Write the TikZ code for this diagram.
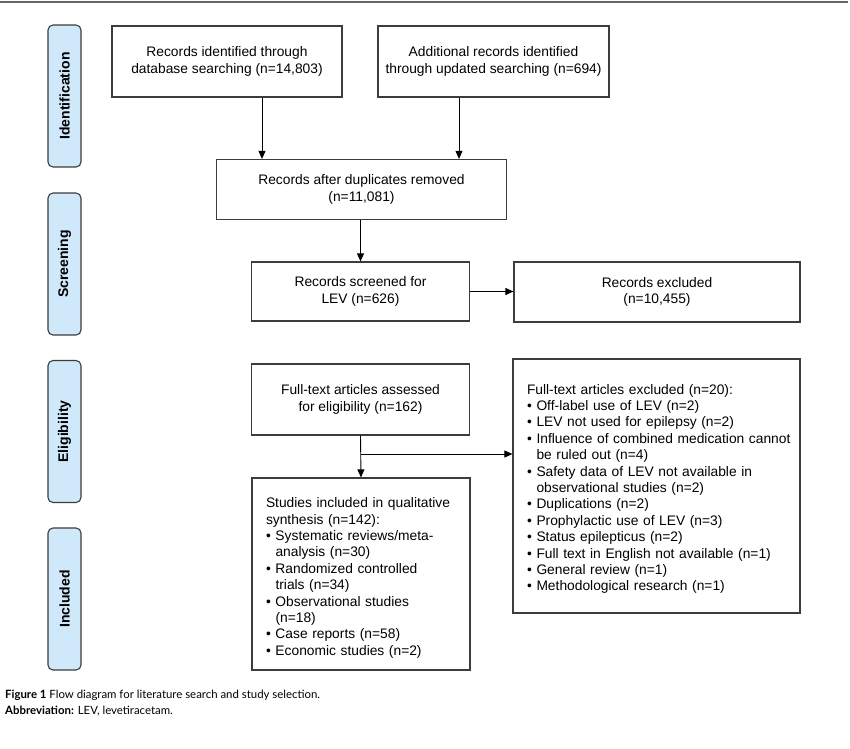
\documentclass[tikz,border=0pt]{standalone}
\usepackage{fontspec}
\setmainfont{Liberation Sans}
\newfontfamily\capfont{Lato}
\usetikzlibrary{arrows.meta,positioning}
\definecolor{sidefill}{RGB}{207,232,250}
\definecolor{boxline}{RGB}{60,60,60}
\newcommand\bl{\makebox[9.5pt][l]{•}}
\newcommand\ind{\hspace*{9.5pt}}
\tikzset{
  fbox/.style={draw=boxline, line width=1.2pt, rectangle, inner sep=0pt,
    font=\fontsize{13.8}{16.4}\selectfont, align=center},
  lbox/.style={fbox, align=left, anchor=center},
  side/.style={draw=boxline, fill=sidefill, line width=1.1pt, rounded corners=5pt,
    rotate=90, minimum width=142pt, minimum height=33pt, inner sep=0pt,
    font=\bfseries\fontsize{14}{16}\selectfont},
  arr/.style={-{Triangle[length=8pt,width=7pt]}, line width=0.9pt, black},
  capt/.style={anchor=base west, inner sep=0pt, font=\capfont\fontsize{11.4}{13}\selectfont}
}
\begin{document}
\begin{tikzpicture}[x=1pt,y=-1pt]
\useasboundingbox (0,0) rectangle (850,748);
\draw[line width=1.6pt, color=black!60] (0,2) -- (848,2);
% side labels
\node[side] (s1) at (64.5,96) {Identification};
\node[side] (s2) at (64.5,264) {Screening};
\node[side] (s3) at (64.5,431.5) {Eligibility};
\node[side] (s4) at (64.5,599) {Included};
% boxes
\node[fbox, minimum width=230pt, minimum height=71pt] (A) at (227,61.5)
  {Records identified through\\database searching (n=14,803)};
\node[fbox, minimum width=231pt, minimum height=71pt] (B) at (493.5,61.5)
  {Additional records identified\\through updated searching (n=694)};
\node[fbox, minimum width=290pt, minimum height=60pt] (C) at (361.5,189.5)
  {Records after duplicates removed\\(n=11,081)};
\node[fbox, minimum width=218pt, minimum height=59pt] (D) at (360.5,291.5)
  {Records screened for\\LEV (n=626)};
\node[fbox, minimum width=286pt, minimum height=60pt] (E) at (657,292)
  {Records excluded\\(n=10,455)};
\node[fbox, minimum width=218pt, minimum height=71pt] (F) at (360.5,399.5)
  {Full-text articles assessed\\for eligibility (n=162)};
\node[lbox, minimum width=287pt, minimum height=254pt, text width=259pt, inner xsep=14pt] (G) at (656.5,486)
  {\hyphenpenalty=10000
   \rule{0pt}{16pt}Full-text articles excluded (n=20):\\
   \bl Off-label use of LEV (n=2)\\
   \bl LEV not used for epilepsy (n=2)\\
   \mbox{\bl Influence of combined medication cannot}\\
   \ind be ruled out (n=4)\\
   \bl Safety data of LEV not available in\\
   \ind observational studies (n=2)\\
   \bl Duplications (n=2)\\
   \bl Prophylactic use of LEV (n=3)\\
   \bl Status epilepticus (n=2)\\
   \bl Full text in English not available (n=1)\\
   \bl General review (n=1)\\
   \bl Methodological research (n=1)};
\node[lbox, minimum width=218pt, minimum height=192pt, text width=190pt, inner xsep=14pt] (H) at (361,574)
  {\hyphenpenalty=10000
   \rule{0pt}{18pt}Studies included in qualitative\\
   synthesis (n=142):\\
   \bl Systematic reviews/meta-\\
   \ind analysis (n=30)\\
   \bl Randomized controlled\\
   \ind trials (n=34)\\
   \bl Observational studies\\
   \ind (n=18)\\
   \bl Case reports (n=58)\\
   \bl Economic studies (n=2)};
% connectors
\draw[arr] ([xshift=35pt]A.south) -- ([xshift=35pt]A.south |- C.north);
\draw[arr] ([xshift=-34.5pt]B.south) -- ([xshift=-34.5pt]B.south |- C.north);
\draw[arr] (C.south -| D.north) -- (D.north);
\draw[arr] (D.east) -- (D.east -| E.west);
\draw[arr] (F.south) -- (H.north);
\coordinate (br) at (360.5,454);
\draw[arr] (br) -- (br -| G.west);
% caption
\node[capt] (cap1) at (5,698)
  {\textbf{Figure 1} Flow diagram for literature search and study selection.};
\node[capt] (cap2) at (5,714)
  {\textbf{Abbreviation:} LEV, levetiracetam.};
\end{tikzpicture}
\end{document}
